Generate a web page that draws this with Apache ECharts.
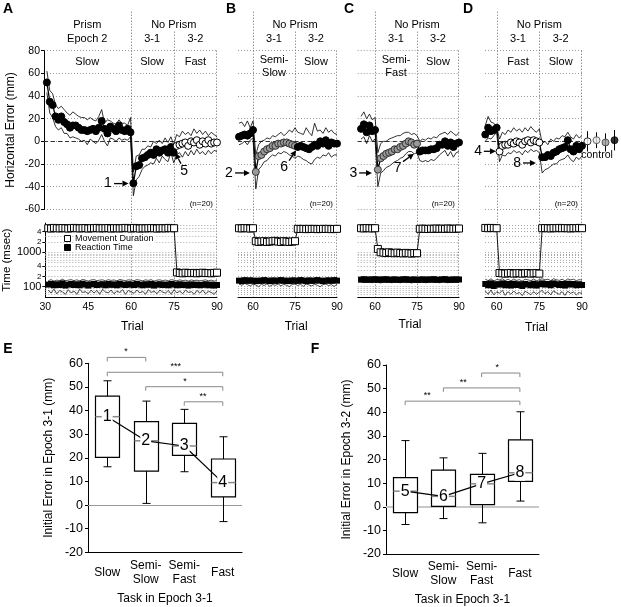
<!DOCTYPE html>
<html>
<head>
<meta charset="utf-8">
<script src="https://cdn.jsdelivr.net/npm/echarts@6.0.0/dist/echarts.min.js"></script>
<style>
html,body{margin:0;padding:0;background:#fff;}
#chart{width:621px;height:607px;}
</style>
</head>
<body>
<div id="chart"></div>
<script>
// ======================= DATA =======================
// Horizontal error (mm): mean and upper/lower band, per trial
// Panel A: trials 31-90
const A_start = 31;
const A_mean = [52,35,32,22,19,22,17,15,12,14, 14,12,10,10,9,10,11,9,12,18, 11,7,13,11,9,14,10,9,11,8,
  -37,-22,-21,-15,-14,-12,-10,-12,-7,-10, -8,-7,-10,-5,-10,
  -4,-3,-2,-1,-4,0,-1,1,-3,0, -2,1,-2,-1,-1];
const A_upper = [62,45,42,32,29,31,28,25,23,26, 24,22,21,21,19,21,19,18,22,28, 16,19,18,16,15,19,16,16,14,21,
  -27,-13,-12,-7,-7,-4,-5,0,-2,1, -2,3,-1,4,-3,
  6,4,9,6,8,5,11,7,10,6, 9,5,8,6,4];
const A_lower = [43,25,21,13,10,12,7,7,3,4, 3,2,0,1,-3,2,0,-2,1,6, 0,-4,3,2,0,3,1,2,1,4,
  -48,-34,-31,-25,-22,-21,-19,-20,-15,-19, -13,-16,-18,-10,-19,
  -12,-10,-14,-9,-13,-8,-12,-7,-11,-9, -12,-8,-11,-8,-9];
// Panel B: trials 55-90
const B_start = 55;
const B_mean = [4,5,6,5,7,10, -27,-13,-12,-9,-7,-6,-4,-4,-2,-2, -1,-1,-2,-3,-4,
  -5,-4,-5,-6,-7,-5,-3,-4,0,-2, 1,-4,-1,-2,-2];
const B_upper = [16,17,13,18,12,18, -12,-3,0,1,3,2,5,4,6,8, 5,7,10,8,12,
  8,7,6,12,8,5,16,9,10,7, 12,8,10,7,6];
const B_lower = [-3,-2,0,-3,1,3, -42,-25,-22,-18,-17,-14,-12,-13,-10,-11, -9,-10,-12,-13,-15,
  -13,-14,-16,-17,-19,-20,-16,-14,-15,-12, -13,-10,-14,-12,-12];
// Panel C: trials 55-90
const C_start = 55;
const C_mean = [11,15,8,14,9,10, -25,-15,-13,-11,-10,-9,-7,-7,-5,-4, -2,0,-1,-3,-2,
  -9,-8,-8,-8,-7,-7,-6,-3,-3,0, -4,-1,-5,-2,-1];
const C_upper = [22,26,20,24,19,21, -10,-2,0,0,2,3,4,5,5,7, 8,8,6,7,5,
  0,2,1,3,2,4,3,6,7,8, 6,9,7,5,8];
const C_lower = [2,4,-2,5,0,2, -40,-28,-26,-23,-22,-20,-18,-17,-15,-14, -11,-9,-9,-11,-10,
  -17,-18,-17,-18,-16,-17,-15,-12,-10,-8, -13,-9,-14,-10,-9];
// Panel D: trials 56-90
const D_start = 56;
const D_mean = [6,12,9,10,12, -9,-4,-3,-3,-1,-2,0,-1,-3,0, 1,-1,1,0,-1,
  -14,-14,-12,-13,-10,-9,-7,-6,-5,1, -7,-9,-4,-7,-4];
const D_upper = [14,22,17,16,13, 2,8,6,10,8,12,9,11,8,12, 9,13,10,8,11,
  -2,0,-3,2,0,3,2,5,4,8, 4,2,6,3,5];
const D_lower = [0,3,2,5,8, -18,-12,-13,-10,-11,-8,-10,-9,-12,-8, -10,-7,-9,-8,-10,
  -28,-25,-24,-22,-20,-20,-17,-16,-15,-12, -16,-18,-14,-16,-13];
// Control points (right of D)
const ctrl_mean = [0, 1, -1, 1];
const ctrl_up = [9, 8, 7, 10];
const ctrl_lo = [-9, -6, -9, -8];

// Time (msec): movement duration (MD), reaction time (RT) with band
const A_md = [5000,4900,5100,5000,4950,5050,5000,4900,5000,5100, 5000,4950,5000,5050,4900,5000,5000,5100,4950,5000, 5000,5050,4900,5000,5000,4950,5000,5100,5000,4900,
  5100,5000,4900,5000,4950,5000,5050,5000,4900,5000, 5000,4950,5100,5000,5000,
  260,250,245,255,250,248,252,245,250,255, 248,250,245,252,255];
const A_rt = [115,120,110,118,112,125,108,115,120,112, 118,110,122,115,108,117,120,112,115,118, 110,120,113,117,110,122,115,112,118,115,
  112,120,115,110,118,113,120,108,115,118, 112,116,110,120,115, 110,118,112,115,108,117,112,115,110,113, 118,110,115,108,112];
const A_rtUp = [150,160,145,155,150,165,148,155,160,150, 158,148,162,155,145,157,160,150,155,158, 148,160,152,157,148,162,155,150,158,155,
  150,160,155,148,158,152,160,145,155,158, 150,156,148,160,155, 148,158,150,155,145,157,150,155,148,152, 158,148,155,145,150];
const A_rtLo = [80,65,85,62,78,70,60,82,66,75, 60,85,68,72,62,80,65,78,60,84, 70,66,80,62,75,68,82,60,78,70,
  64,80,66,74,60,82,68,75,62,80, 70,65,78,60,82, 66,75,62,80,68,72,60,78,65,80, 62,74,68,60,76];
const B_md = [5000,4950,5050,5000,4900,5000, 2100,2000,2050,2100,2000,2050,2100,2150,2050,2000, 2100,2050,2000,2050,2100,
  4800,4750,4800,4700,4800,4750,4800,4700,4750,4800, 4750,4800,4700,4750,4800];
const B_rt = [150,145,155,148,152,150, 145,150,148,155,150,145,152,148,150,155, 148,150,145,152,150,
  148,155,150,145,152,148,150,155,150,145, 150,152,148,155,150];
const B_rtUp = [175,170,180,172,178,175, 170,175,172,180,175,170,178,172,175,180, 172,175,170,178,175,
  172,180,175,170,178,172,175,180,175,170, 175,178,172,180,175];
const B_rtLo = [120,110,125,115,105,120, 112,100,118,108,122,102,115,110,120,105, 118,110,100,115,120,
  108,118,102,120,112,105,118,110,100,115, 120,108,115,102,118];
const C_md = [5000,4950,5050,5000,4950,5000, 1250,1000,980,950,1000,960,940,980,950,930, 960,940,920,950,940,
  4800,4850,4800,4750,4850,4800,4900,4800,4850,4800, 4900,4850,4800,4850,4900];
const C_rt = [160,165,158,162,160,165, 158,162,160,165,158,160,163,158,160,162, 165,158,160,162,158,
  160,163,158,162,160,165,158,160,162,165, 160,158,163,160,162];
const C_rtUp = [185,190,182,188,185,190, 182,188,185,190,182,185,188,182,185,188, 190,182,185,188,182,
  185,188,182,188,185,190,182,185,188,190, 185,182,188,185,188];
const C_rtLo = [138,132,140,135,130,138, 135,128,138,132,140,130,135,138,130,136, 132,138,128,135,140,
  132,138,130,135,140,132,136,130,138,134, 130,138,132,136,134];
const D_md = [5100,5000,5100,5050,5000, 250,245,240,245,250,240,245,248,240,245, 250,240,245,248,240,
  5000,5050,5000,4950,5050,5000,5100,5000,5050,5000, 4950,5050,5000,5100,5000];
const D_rt = [120,110,125,105,118, 115,125,110,120,108,122,112,118,105,120, 115,110,122,108,118,
  125,115,120,110,125,118,112,120,108,122, 115,120,110,118,112];
const D_rtUp = [165,150,170,145,160, 158,170,150,165,148,168,152,160,145,165, 158,150,168,148,160,
  170,158,165,150,170,160,152,165,148,168, 158,165,150,160,155];
const D_rtLo = [75,60,80,58,70, 65,78,56,72,60,75,62,68,55,74, 66,58,72,60,70,
  78,62,72,58,76,66,60,72,56,74, 64,70,58,68,62];

// Time axis ticks / labels / grid lines
const timeTickVals = [100, 200, 400, 1000, 2000, 4000];
const timeTickLabels = ['100', '2', '4', '1000', '2', '4'];
const timeGridVals = [60,70,80,90,100,200,300,400,500,600,700,800,900,1000,2000,3000,4000,5000,6000,7000];

// Box plots E / F : [min, Q1, median, Q3, max]
const taskCats = ['Slow', 'Semi-\nSlow', 'Semi-\nFast', 'Fast'];
const E_box = [[16.2,20.2,37.4,46.1,52.6],[0.7,14.4,27.2,35.3,44],[14.1,21,25,34.6,40.5],[-7,3.5,9.5,19.5,28.9]];
const E_marks = ['1','2','3','4'];
const F_box = [[-7.5,-2.5,6.6,12.3,28],[-5,0.2,4.4,15.5,20.7],[-6.8,0.9,9.7,13.7,22.6],[2.4,10.7,14.4,28.3,40.2]];
const F_marks = ['5','6','7','8'];
// significance brackets: [fromIdx, toIdx, level, stars, starPos]
const E_sig = [[0,1,62.5,'*',0.49],[0,3,56.2,'***',1.78],[1,3,50.1,'*',2.02],[2,3,43.7,'**',2.49]];
const F_sig = [[2,3,56.6,'*',2.41],[1,3,50.3,'**',1.52],[0,3,44.7,'**',0.58]];

// annotation arrows (data coords): text pos, tail, head
const A_arrows = [{t:'1', text:[52.2,-37.3], from:[54.3,-37.3], to:[59.3,-37.3]},
                  {t:'5', text:[78.6,-26.7], from:[77.5,-19.7], to:[75.6,-10.4]}];
const B_arrows = [{t:'2', text:[51.4,-27.9], from:[53.6,-27.9], to:[58.9,-27.9]},
                  {t:'6', text:[71.1,-23.2], from:[72.9,-17], to:[75.4,-7.8]}];
const C_arrows = [{t:'3', text:[52.25,-27.9], from:[54.3,-27.9], to:[58.9,-27.9]},
                  {t:'7', text:[68.1,-23.5], from:[70,-17.9], to:[73.9,-10.9]}];
const D_arrows = [{t:'4', text:[53.5,-8.8], from:[55.5,-8.8], to:[59.75,-8.8]},
                  {t:'8', text:[67.2,-19.1], from:[69.25,-19.1], to:[73.8,-19.1]}];

// ======================= BUILD =======================
const FONT = '"Liberation Sans", Arial, Helvetica, sans-serif';
const L = v => Math.log10(v);
const BLACK = {color:'#000', borderColor:'#000', borderWidth:1};
const OPEN = {color:'#fff', borderColor:'#000', borderWidth:1};
const GRAY = {color:'#9a9a9a', borderColor:'#333', borderWidth:1};
const LIGHT = {color:'#e6e6e6', borderColor:'#444', borderWidth:1};

const panels = [
  {start:A_start, mean:A_mean, up:A_upper, lo:A_lower, md:A_md, rt:A_rt, rtUp:A_rtUp, rtLo:A_rtLo,
   sty:[BLACK,BLACK,OPEN], arrows:A_arrows, xTicks:[30,45,60,75,90], left:44, width:173, xmin:30, showY:true,
   tasks:['Slow','Fast'], trialX:60.4, trialDy:30},
  {start:B_start, mean:B_mean, up:B_upper, lo:B_lower, md:B_md, rt:B_rt, rtUp:B_rtUp, rtLo:B_rtLo,
   sty:[BLACK,GRAY,BLACK], arrows:B_arrows, xTicks:[60,75,90], left:238, width:99, xmin:54.64, showY:false,
   tasks:['Semi-\nSlow','Slow'], trialX:75.4, trialDy:30},
  {start:C_start, mean:C_mean, up:C_upper, lo:C_lower, md:C_md, rt:C_rt, rtUp:C_rtUp, rtLo:C_rtLo,
   sty:[BLACK,GRAY,BLACK], arrows:C_arrows, xTicks:[60,75,90], left:357.7, width:101.3, xmin:53.8, showY:false,
   tasks:['Semi-\nFast','Slow'], trialX:72.5, trialDy:28},
  {start:D_start, mean:D_mean, up:D_upper, lo:D_lower, md:D_md, rt:D_rt, rtUp:D_rtUp, rtLo:D_rtLo,
   sty:[BLACK,OPEN,BLACK], arrows:D_arrows, xTicks:[60,75,90], left:485, width:97, xmin:55.9, showY:false,
   tasks:['Fast','Slow'], trialX:74, trialDy:31}
];
const TOP_Y = 50.7, TOP_H = 158.6, BOT_Y = 223.2, BOT_H = 73.85;

const grid = [], xAxis = [], yAxis = [], series = [];
const txtStyle = (size) => ({fontFamily:FONT, fontSize:size, color:'#000'});
const epochOf = t => t <= 60 ? 0 : (t <= 75 ? 1 : 2);

panels.forEach((p, pi) => {
  const gT = grid.length;
  grid.push({left:p.left, top:TOP_Y, width:p.width, height:TOP_H});
  xAxis.push({gridIndex:gT, type:'value', min:p.xmin, max:90, show:false});
  yAxis.push({gridIndex:gT, type:'value', min:-60, max:80, interval:20,
    axisLine:{show:p.showY, onZero:false, lineStyle:{color:'#000', width:1}},
    axisTick:{show:p.showY, length:3, lineStyle:{color:'#000'}},
    axisLabel:{show:p.showY, margin:4, ...txtStyle(10.5)},
    splitLine:{show:true, lineStyle:{color:'#999', type:[1,2], width:1}},
    name:p.showY ? 'Horizontal Error (mm)' : '', nameLocation:'middle', nameGap:27, nameTextStyle:txtStyle(12)});
  const gB = grid.length;
  grid.push({left:p.left, top:BOT_Y, width:p.width, height:BOT_H});
  xAxis.push({gridIndex:gB, type:'value', min:p.xmin, max:90,
    axisLine:{show:true, onZero:false, lineStyle:{color:'#000', width:1}},
    axisTick:{show:false}, splitLine:{show:false},
    axisLabel:{customValues:p.xTicks, margin:5, ...txtStyle(10.5)}});
  yAxis.push({gridIndex:gB, type:'value', min:L(50), max:L(7000),
    axisLine:{show:p.showY, onZero:false, lineStyle:{color:'#000', width:1}},
    axisTick:{show:p.showY, customValues:timeTickVals.map(L), length:3, lineStyle:{color:'#000'}},
    axisLabel:{show:p.showY, customValues:timeTickVals.map(L), margin:4, ...txtStyle(11),
      formatter: v => { const i = timeTickVals.findIndex(t => Math.abs(L(t) - v) < 1e-6); const s = timeTickLabels[i] || ''; return s.length > 1 ? s : '{s|' + s + '}'; },
      rich:{s:{fontSize:8, fontFamily:FONT, color:'#000'}}},
    splitLine:{show:false},
    name:p.showY ? 'Time (msec)' : '', nameLocation:'middle', nameGap:29, nameTextStyle:txtStyle(11.5)});

  const xy = (arr, f) => arr.map((v, i) => [p.start + i, f ? f(v) : v]);
  // top: zero line
  series.push({type:'line', xAxisIndex:gT, yAxisIndex:gT, data:[], z:1, silent:true,
    markLine:{silent:true, symbol:'none', z:1, animation:false, label:{show:false},
      lineStyle:{color:'#333', type:[4,3], width:1}, data:[{yAxis:0}]}});
  [p.up, p.lo].forEach(b => series.push({type:'line', xAxisIndex:gT, yAxisIndex:gT, data:xy(b), symbol:'none',
    lineStyle:{color:'#000', width:0.8}, z:2, silent:true}));
  series.push({type:'line', xAxisIndex:gT, yAxisIndex:gT,
    data:p.mean.map((v, i) => ({value:[p.start + i, v], itemStyle:p.sty[epochOf(p.start + i)]})),
    symbol:'circle', symbolSize:7, showAllSymbol:true, itemStyle:{color:'#000'},
    lineStyle:{color:'#000', width:1.3}, z:3, silent:true});
  // bottom: grid lines
  series.push({type:'line', xAxisIndex:gB, yAxisIndex:gB, data:[], z:1, silent:true,
    markLine:{silent:true, symbol:'none', z:1, animation:false, label:{show:false},
      lineStyle:{color:'#aaa', type:[1,2], width:1}, data:timeGridVals.map(v => ({yAxis:L(v)}))}});
  [p.rtUp, p.rtLo].forEach(b => series.push({type:'line', xAxisIndex:gB, yAxisIndex:gB, data:xy(b, L), symbol:'none',
    lineStyle:{color:'#000', width:0.7}, z:2, silent:true}));
  series.push({type:'line', xAxisIndex:gB, yAxisIndex:gB, data:xy(p.rt, L), symbol:'rect', symbolSize:6, showAllSymbol:true,
    itemStyle:{color:'#000'}, lineStyle:{color:'#000', width:1}, z:3, silent:true});
  series.push({type:'line', xAxisIndex:gB, yAxisIndex:gB, data:xy(p.md, L), symbol:'rect', symbolSize:7, showAllSymbol:true,
    itemStyle:{color:'#fff', borderColor:'#000', borderWidth:1}, lineStyle:{color:'#000', width:0.9}, z:4, silent:true});
});

// control grid
const gC = grid.length;
grid.push({left:583, top:TOP_Y, width:36, height:TOP_H});
xAxis.push({gridIndex:gC, type:'value', min:0, max:4, show:false});
yAxis.push({gridIndex:gC, type:'value', min:-60, max:80, show:false});
const ctrlSty = [OPEN, LIGHT, GRAY, BLACK];
series.push({type:'custom', xAxisIndex:gC, yAxisIndex:gC, z:2, silent:true,
  data:ctrl_mean.map((m, i) => [i + 0.5, ctrl_lo[i], ctrl_up[i]]),
  renderItem:(params, api) => {
    const a = api.coord([api.value(0), api.value(1)]), b = api.coord([api.value(0), api.value(2)]);
    return {type:'line', shape:{x1:a[0], y1:a[1], x2:b[0], y2:b[1]}, style:{stroke:'#000', lineWidth:1}};
  }});
series.push({type:'scatter', xAxisIndex:gC, yAxisIndex:gC, z:3, silent:true, symbolSize:7,
  data:ctrl_mean.map((m, i) => ({value:[i + 0.5, m], itemStyle:ctrlSty[i]}))});

// box plot panels
function boxPanel(left, top, width, height, boxes, marks, sig, yName, zeroStyle) {
  const g = grid.length;
  grid.push({left, top, width, height});
  xAxis.push({gridIndex:g, type:'value', min:-0.5, max:3.5,
    axisLine:{show:true, onZero:false, lineStyle:{color:'#000', width:1}}, axisTick:{show:false}, splitLine:{show:false},
    axisLabel:{customValues:[0,1,2,3], formatter:v => taskCats[Math.round(v)], verticalAlign:'middle', margin:20,
      lineHeight:14, ...txtStyle(12)},
    name:'Task in Epoch 3-1', nameLocation:'middle', nameGap:40, nameTextStyle:txtStyle(12)});
  yAxis.push({gridIndex:g, type:'value', min:-20, max:60, interval:10,
    axisLine:{show:true, onZero:false, lineStyle:{color:'#000', width:1}},
    axisTick:{show:true, length:3, lineStyle:{color:'#000'}}, splitLine:{show:false},
    axisLabel:{margin:5, ...txtStyle(12.5)},
    name:yName, nameLocation:'middle', nameGap:33, nameTextStyle:txtStyle(12)});
  series.push({type:'line', xAxisIndex:g, yAxisIndex:g, data:[], z:1, silent:true,
    markLine:{silent:true, symbol:'none', z:1, animation:false, label:{show:false}, lineStyle:zeroStyle, data:[{yAxis:0}]}});
  series.push({type:'custom', xAxisIndex:g, yAxisIndex:g, z:2, silent:true,
    data:boxes.map((b, i) => [i, ...b]),
    encode:{x:0, y:[1,2,3,4,5]},
    renderItem:(params, api) => {
      const x = api.value(0);
      const c = k => api.coord([x, api.value(k)]);
      const pMin = c(1), pQ1 = c(2), pMed = c(3), pQ3 = c(4), pMax = c(5);
      const cx = Math.round(pMin[0]) + 0.5, hw = 12, cap = 4;
      const st = {stroke:'#000', lineWidth:1};
      return {type:'group', children:[
        {type:'line', shape:{x1:cx, y1:pMin[1], x2:cx, y2:pQ1[1]}, style:st},
        {type:'line', shape:{x1:cx, y1:pQ3[1], x2:cx, y2:pMax[1]}, style:st},
        {type:'line', shape:{x1:cx - cap, y1:pMin[1], x2:cx + cap, y2:pMin[1]}, style:st},
        {type:'line', shape:{x1:cx - cap, y1:pMax[1], x2:cx + cap, y2:pMax[1]}, style:st},
        {type:'rect', shape:{x:cx - hw, y:pQ3[1], width:2 * hw, height:pQ1[1] - pQ3[1]}, style:{fill:'#fff', stroke:'#000', lineWidth:1.2}},
        {type:'line', shape:{x1:cx - hw, y1:pMed[1], x2:cx + hw, y2:pMed[1]}, style:{stroke:'#888', lineWidth:1.5}}
      ]};
    }});
  series.push({type:'line', xAxisIndex:g, yAxisIndex:g, data:boxes.map((b, i) => [i, b[2]]), symbol:'none',
    lineStyle:{color:'#000', width:1.2}, z:3, silent:true});
  series.push({type:'custom', xAxisIndex:g, yAxisIndex:g, z:6, silent:true, clip:false,
    data:boxes.map((b, i) => [i, b[2]]),
    renderItem:(params, api) => {
      const pt = api.coord([api.value(0), api.value(1)]);
      return {type:'text', z2:10, style:{x:pt[0], y:pt[1], text:marks[params.dataIndex], fontFamily:FONT, fontSize:16,
        fill:'#000', align:'center', verticalAlign:'middle', backgroundColor:'#fff', padding:[0,1]}};
    }});
  series.push({type:'custom', xAxisIndex:g, yAxisIndex:g, z:2, silent:true, clip:false,
    data:sig.map(s => [s[0], s[1], s[2]]),
    renderItem:(params, api) => {
      const a = api.coord([api.value(0), api.value(2)]), b = api.coord([api.value(1), api.value(2)]);
      return {type:'polyline', shape:{points:[[a[0], a[1] + 4], a, b, [b[0], b[1] + 4]]}, style:{stroke:'#888', lineWidth:1, fill:null}};
    }});
  series.push({type:'custom', xAxisIndex:g, yAxisIndex:g, z:6, silent:true, clip:false,
    data:sig.map(s => [s[4], s[2]]),
    renderItem:(params, api) => {
      const pt = api.coord([api.value(0), api.value(1)]);
      return {type:'text', style:{x:pt[0], y:pt[1] - 1, text:sig[params.dataIndex][3], fontFamily:FONT, fontSize:9,
        fill:'#000', align:'center', verticalAlign:'bottom'}};
    }});
}
boxPanel(88, 363.3, 154, 189, E_box, E_marks, E_sig, 'Initial Error in Epoch 3-1 (mm)', {color:'#999', width:1, type:'solid'});
boxPanel(386, 365, 153, 189.3, F_box, F_marks, F_sig, 'Initial Error in Epoch 3-2 (mm)', {color:'#c8c8c8', width:2, type:'solid'});

const option = {animation:false, backgroundColor:'#fff', textStyle:{fontFamily:FONT}, grid, xAxis, yAxis, series};
const chart = echarts.init(document.getElementById('chart'), null, {renderer:'canvas'});
chart.setOption(option);

// ---------- annotations positioned through the axes ----------
const px = (gi, x, y) => chart.convertToPixel({gridIndex:gi}, [x, y]);
const G = [];
const txt = (x, y, s, size, extra) => ({type:'text', x, y, z:20, silent:true,
  style:Object.assign({text:s, fontSize:size, fontFamily:FONT, fill:'#000', align:'center', verticalAlign:'middle'}, extra || {})});
const vline = (x, y1, y2) => ({type:'line', z:0, silent:true, shape:{x1:x, y1:y1, x2:x, y2:y2},
  style:{stroke:'#666', lineWidth:1, lineDash:[1,2]}});
panels.forEach((p, pi) => {
  const gT = pi * 2, gB = pi * 2 + 1;
  const y80 = px(gT, 60, 80)[1], y60 = px(gT, 60, 60)[1];
  const r = v => Math.round(v) + 0.5;
  const x60 = px(gT, 60, 0)[0], x75 = px(gT, 75, 0)[0], x90 = px(gT, 90, 0)[0];
  const yBot = px(gB, 60, L(50))[1];
  G.push(vline(r(x60), y80 - 39, yBot), vline(r(x75), y80 - 19, yBot), vline(r(x90) - 1, y80, yBot));
  if (pi === 0) {
    const xc = (px(gT, 30, 0)[0] + x60) / 2;
    G.push(txt(xc, y80 - 26, 'Prism', 11), txt(xc, y80 - 12, 'Epoch 2', 11), txt(xc, (y80 + y60) / 2, 'Slow', 11));
  }
  G.push(txt((x60 + x90) / 2, y80 - 26, 'No Prism', 11));
  G.push(txt((x60 + x75) / 2, y80 - 12, '3-1', 11), txt((x75 + x90) / 2, y80 - 12, '3-2', 11));
  p.tasks.forEach((t, k) => {
    const xc = k === 0 ? (x60 + x75) / 2 : (x75 + x90) / 2;
    const yc = t.indexOf('\n') >= 0 ? y80 + 16 : (y80 + y60) / 2;
    G.push(txt(xc, yc, t, 11, {lineHeight:13}));
  });
  G.push(txt(x90 - 4, px(gT, 90, -55)[1], '(n=20)', 8, {align:'right'}));
  p.arrows.forEach(a => {
    const [fx, fy] = px(gT, a.from[0], a.from[1]);
    const [tx, ty] = px(gT, a.to[0], a.to[1]);
    const [lx, ly] = px(gT, a.text[0], a.text[1]);
    const ang = Math.atan2(ty - fy, tx - fx), hl = 6, hw = 3;
    const bx = tx - hl * Math.cos(ang), by = ty - hl * Math.sin(ang);
    G.push({type:'line', z:20, silent:true, shape:{x1:fx, y1:fy, x2:bx, y2:by}, style:{stroke:'#000', lineWidth:1.3}});
    G.push({type:'polygon', z:20, silent:true, shape:{points:[[tx, ty],
      [bx - hw * Math.sin(ang), by + hw * Math.cos(ang)], [bx + hw * Math.sin(ang), by - hw * Math.cos(ang)]]},
      style:{fill:'#000'}});
    G.push(txt(lx, ly, a.t, 14));
  });
  G.push(txt(px(gB, p.trialX, 0)[0], yBot + p.trialDy, 'Trial', 12));
});
// legend of time panel A
G.push({type:'rect', z:20, silent:true, shape:{x:64.5, y:235.5, width:6, height:6}, style:{fill:'#fff', stroke:'#000', lineWidth:1}});
G.push(txt(74, 239, 'Movement Duration', 9, {align:'left', backgroundColor:'#fff', padding:[0,1]}));
G.push({type:'rect', z:20, silent:true, shape:{x:64.5, y:244.5, width:6, height:6}, style:{fill:'#000', stroke:'#000', lineWidth:1}});
G.push(txt(74, 248, 'Reaction Time', 9, {align:'left', backgroundColor:'#fff', padding:[0,1]}));
// control label
const cp = px(gC, 1.56, -12.6);
G.push(txt(cp[0], cp[1], 'control', 10.5));
// panel letters
[['A',8,9],['B',231,9],['C',349,9],['D',468,9],['E',8,349],['F',315,349]].forEach(l =>
  G.push(txt(l[1], l[2], l[0], 14, {fontWeight:'bold'})));
chart.setOption({graphic:G});
</script>
</body>
</html>
